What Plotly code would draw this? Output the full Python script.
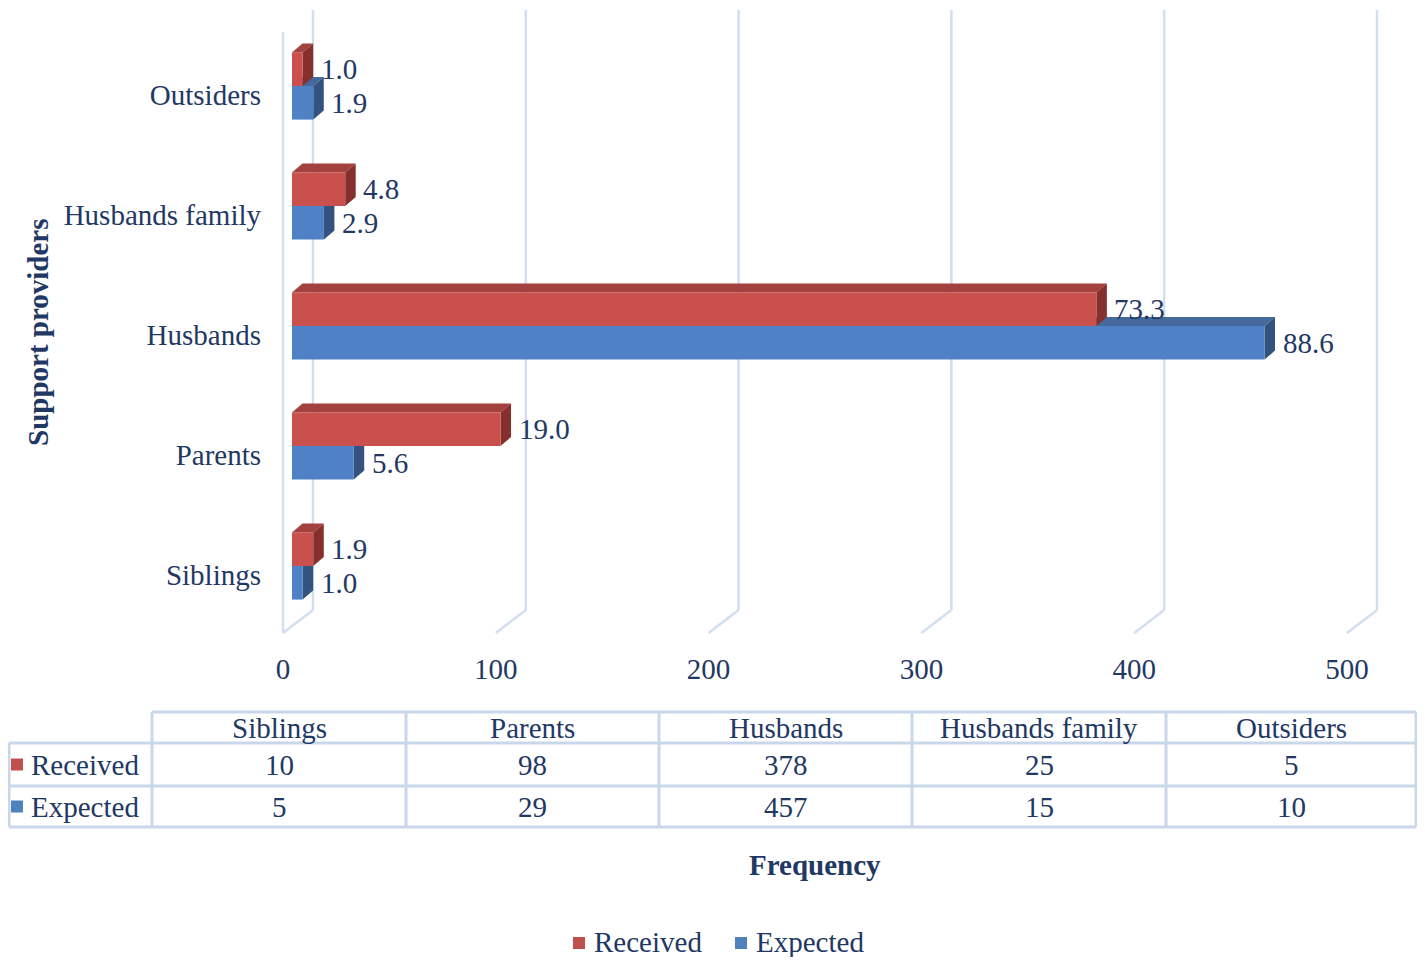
import plotly.graph_objects as go

# ---------------- data ----------------
categories = ["Siblings", "Parents", "Husbands", "Husbands family", "Outsiders"]
received = [10, 98, 378, 25, 5]
expected = [5, 29, 457, 15, 10]
received_pct = ["1.9", "19.0", "73.3", "4.8", "1.0"]
expected_pct = ["1.0", "5.6", "88.6", "2.9", "1.9"]
x_ticks = [0, 100, 200, 300, 400, 500]
series_names = ["Received", "Expected"]

# ---------------- styling / geometry ----------------
FONT = "Liberation Serif"
FS = 29
TXT = "#1F3864"
GRID = "#D3DEEE"
RED_FRONT, RED_TOP, RED_SIDE = "#C9504D", "#A3413F", "#86302E"
BLUE_FRONT, BLUE_TOP, BLUE_SIDE = "#4F81C6", "#46699B", "#33527E"
RED_KEY, BLUE_KEY = "#C0504D", "#4F81BD"

OFF = 8                     # page body margin; all geometry below is in page px
FW, FH = 1425 - 2 * OFF, 965 - 2 * OFF
L, R_EDGE, T, B_EDGE = 270, 1415, OFF, 640      # plot area in page px
K = 2.128                                        # px per unit (x)
X0 = 292                                         # page px of value 0 on bar front plane
CAT_PX = 120                                     # px per category
Y4_PX = 95                                       # page px of top category centre

xmin = (L - X0) / K
xmax = xmin + (R_EDGE - L) / K
ymax = 4 + (Y4_PX - T) / CAT_PX
ymin = ymax - (B_EDGE - T) / CAT_PX

def ux(px):
    return px / K

def uy_abs(py):
    return 4 + (Y4_PX - py) / CAT_PX

def fx(px):
    return (px - L) / (R_EDGE - L)

def fy(py):
    return (B_EDGE - py) / (B_EDGE - T)

BAR_W = 0.28
SPLIT = 9 / CAT_PX
DXB, DYB = ux(10.5), 9 / CAT_PX
BACK_DX, FRONT_DX = ux(21), ux(9)
Y_BACK_TOP, Y_BACK_FLOOR, Y_FRONT_FLOOR, Y_LEFT_TOP = uy_abs(10), uy_abs(610), uy_abs(633), uy_abs(32)

ypos = list(range(len(categories)))

fig = go.Figure()
fig.add_trace(go.Bar(
    name=series_names[0], y=ypos, x=received, orientation="h",
    width=BAR_W, offset=SPLIT, marker=dict(color=RED_FRONT, line=dict(width=0)),
    hoverinfo="x+name", showlegend=False))
fig.add_trace(go.Bar(
    name=series_names[1], y=ypos, x=expected, orientation="h",
    width=BAR_W, offset=SPLIT - BAR_W, marker=dict(color=BLUE_FRONT, line=dict(width=0)),
    hoverinfo="x+name", showlegend=False))

shapes = []
shapes.append(dict(type="line", xref="x", yref="y", x0=-FRONT_DX, x1=-FRONT_DX,
                   y0=Y_LEFT_TOP, y1=Y_FRONT_FLOOR, line=dict(color=GRID, width=2.5), layer="below"))
for v in x_ticks:
    shapes.append(dict(type="line", xref="x", yref="y", x0=v + BACK_DX, x1=v + BACK_DX,
                       y0=Y_BACK_TOP, y1=Y_BACK_FLOOR, line=dict(color=GRID, width=2.5), layer="below"))
    shapes.append(dict(type="line", xref="x", yref="y", x0=v + BACK_DX, x1=v - FRONT_DX,
                       y0=Y_BACK_FLOOR, y1=Y_FRONT_FLOOR, line=dict(color=GRID, width=2.5), layer="below"))

def faces(vals, bottom_off, top_col, side_col):
    out = []
    for p, v in zip(ypos, vals):
        yb = p + bottom_off
        yt = yb + BAR_W
        top = f"M 0 {yt} L {v} {yt} L {v + DXB} {yt + DYB} L {DXB} {yt + DYB} Z"
        side = f"M {v} {yb} L {v} {yt} L {v + DXB} {yt + DYB} L {v + DXB} {yb + DYB} Z"
        out.append(dict(type="path", xref="x", yref="y", path=top, fillcolor=top_col,
                        line=dict(width=0), layer="below"))
        out.append(dict(type="path", xref="x", yref="y", path=side, fillcolor=side_col,
                        line=dict(width=0), layer="below"))
    return out

shapes += faces(expected, SPLIT - BAR_W, BLUE_TOP, BLUE_SIDE)
shapes += faces(received, SPLIT, RED_TOP, RED_SIDE)

annotations = []
for p, v, t in zip(ypos, received, received_pct):
    annotations.append(dict(x=v, y=p + SPLIT + BAR_W / 2, xref="x", yref="y", text=t,
                            showarrow=False, xanchor="left", yanchor="middle", xshift=16,
                            font=dict(family=FONT, size=FS, color=TXT)))
for p, v, t in zip(ypos, expected, expected_pct):
    annotations.append(dict(x=v, y=p + SPLIT - BAR_W / 2, xref="x", yref="y", text=t,
                            showarrow=False, xanchor="left", yanchor="middle", xshift=16,
                            font=dict(family=FONT, size=FS, color=TXT)))

# ---------------- data table ----------------
col_edges = [152, 406, 659, 912, 1166, 1416]
row_edges = [712, 743, 786, 827]
LEFT_EDGE = OFF + 1
TB = "#C9D7EA"
def pline(x0, y0, x1, y1):
    return dict(type="line", xref="paper", yref="paper", x0=fx(x0), y0=fy(y0), x1=fx(x1), y1=fy(y1),
                line=dict(color=TB, width=3))
shapes.append(pline(col_edges[0], row_edges[0], col_edges[-1], row_edges[0]))
for ry in row_edges[1:]:
    shapes.append(pline(LEFT_EDGE, ry, col_edges[-1], ry))
shapes.append(pline(LEFT_EDGE, row_edges[1], LEFT_EDGE, row_edges[-1]))
for cx in col_edges:
    shapes.append(pline(cx, row_edges[0], cx, row_edges[-1]))

def txt(text, cx, cy, anchor="center", bold=False):
    return dict(x=fx(cx), y=fy(cy), xref="paper", yref="paper",
                text=f"<b>{text}</b>" if bold else text, showarrow=False,
                xanchor=anchor, yanchor="middle", font=dict(family=FONT, size=FS, color=TXT))

for i, c in enumerate(categories):
    cx = (col_edges[i] + col_edges[i + 1]) / 2
    annotations.append(txt(c, cx, (row_edges[0] + row_edges[1]) / 2))
    annotations.append(txt(str(received[i]), cx, (row_edges[1] + row_edges[2]) / 2))
    annotations.append(txt(str(expected[i]), cx, (row_edges[2] + row_edges[3]) / 2))
for j, (name, col) in enumerate(zip(series_names, [RED_KEY, BLUE_KEY])):
    cy = (row_edges[1 + j] + row_edges[2 + j]) / 2
    shapes.append(dict(type="rect", xref="paper", yref="paper", x0=fx(11), x1=fx(23),
                       y0=fy(cy + 6), y1=fy(cy - 6), fillcolor=col, line=dict(width=0)))
    annotations.append(txt(name, 29, cy, anchor="left"))

# ---------------- legend (bottom) ----------------
legend_items = [(series_names[0], RED_KEY, 573), (series_names[1], BLUE_KEY, 735)]
LEG_Y = 943
for name, col, sx in legend_items:
    shapes.append(dict(type="rect", xref="paper", yref="paper", x0=fx(sx), x1=fx(sx + 12),
                       y0=fy(LEG_Y + 6), y1=fy(LEG_Y - 6), fillcolor=col, line=dict(width=0)))
    annotations.append(txt(name, sx + 19, LEG_Y - 1, anchor="left"))

# axis titles
annotations.append(txt("Frequency", 815, 865, bold=True))
annotations.append(dict(x=fx(38), y=fy(333), xref="paper", yref="paper", text="<b>Support providers</b>",
                        showarrow=False, xanchor="center", yanchor="middle", textangle=-90,
                        font=dict(family=FONT, size=FS, color=TXT)))

fig.update_layout(
    width=FW, height=FH,
    margin=dict(l=L - OFF, r=FW - (R_EDGE - OFF), t=T - OFF, b=FH - (B_EDGE - OFF), autoexpand=False),
    paper_bgcolor="white", plot_bgcolor="white",
    barmode="overlay",
    shapes=shapes, annotations=annotations,
    font=dict(family=FONT, size=FS, color=TXT),
    xaxis=dict(range=[xmin, xmax], tickvals=x_ticks, showgrid=False, zeroline=False,
               showline=False, ticks="", ticklabelshift=-9, ticklabelstandoff=9,
               tickfont=dict(family=FONT, size=FS, color=TXT)),
    yaxis=dict(range=[ymin, ymax], tickvals=ypos, ticktext=categories, showgrid=False,
               zeroline=False, showline=False, ticks="", ticklabelstandoff=8,
               tickfont=dict(family=FONT, size=FS, color=TXT)),
    showlegend=False,
)

fig.write_html("out.html")
